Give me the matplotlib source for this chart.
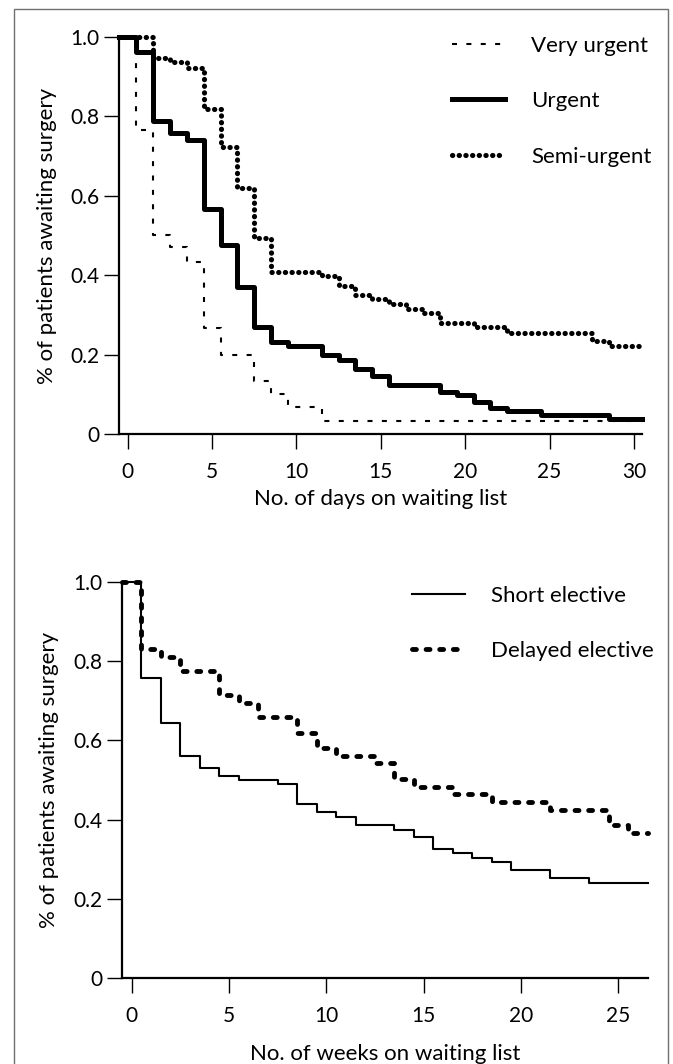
import matplotlib
matplotlib.use("Agg")
import matplotlib.pyplot as plt
from matplotlib.patches import Rectangle

plt.rcParams['font.family'] = ['Lato', 'DejaVu Sans']
FS = 16
TFS = 15

# top panel: days on waiting list (step starts at each time)
days_vu = [-0.5, 0.5, 1.5, 2.5, 3.5, 4.5, 5.5, 7.5, 8.5, 9.5, 11.5, 30.5]
very_urgent = [1.0, 0.766, 0.501, 0.47, 0.434, 0.266, 0.2, 0.134, 0.1, 0.067, 0.034, 0.034]

days_u = [-0.5, 0.5, 1.5, 2.5, 3.5, 4.5, 5.5, 6.5, 7.5, 8.5, 9.5, 11.5, 12.5, 13.5,
          14.5, 15.5, 18.5, 19.5, 20.5, 21.5, 22.5, 24.5, 28.5, 30.5]
urgent = [1.0, 0.962, 0.789, 0.757, 0.74, 0.567, 0.476, 0.371, 0.27, 0.231, 0.222, 0.198,
          0.187, 0.164, 0.145, 0.124, 0.107, 0.098, 0.081, 0.065, 0.058, 0.048, 0.039, 0.039]

days_su = [-0.5, 1.5, 2.5, 3.5, 4.5, 5.5, 6.5, 7.5, 8.5, 11.5, 12.5, 13.5, 14.5, 15.5,
           16.5, 17.5, 18.5, 20.5, 22.5, 27.5, 28.5, 30.5]
semi_urgent = [1.0, 0.946, 0.938, 0.923, 0.818, 0.724, 0.619, 0.493, 0.407, 0.397, 0.374,
               0.35, 0.339, 0.327, 0.316, 0.304, 0.28, 0.269, 0.255, 0.235, 0.222, 0.222]

# bottom panel: weeks on waiting list
weeks_se = [-0.5, 0.5, 1.5, 2.5, 3.5, 4.5, 5.5, 7.5, 8.5, 9.5, 10.5, 11.5, 13.5, 14.5,
            15.5, 16.5, 17.5, 18.5, 19.5, 21.5, 23.5, 26.5]
short_elective = [1.0, 0.757, 0.643, 0.561, 0.53, 0.51, 0.5, 0.49, 0.439, 0.418, 0.407,
                  0.387, 0.374, 0.357, 0.325, 0.315, 0.302, 0.293, 0.273, 0.252, 0.241, 0.241]

weeks_de = [-0.5, 0.5, 1.5, 2.5, 4.5, 5.5, 6.5, 8.5, 9.5, 10.5, 12.5, 13.5, 14.5, 16.5,
            18.5, 21.5, 24.5, 25.5, 26.5]
delayed_elective = [1.0, 0.831, 0.811, 0.774, 0.715, 0.695, 0.658, 0.618, 0.58, 0.56, 0.542,
                    0.503, 0.483, 0.464, 0.444, 0.424, 0.386, 0.365, 0.365]

W, H = 673, 1064
fig = plt.figure(figsize=(W / 100, H / 100), dpi=100)

# outer frame
fig.patches.append(Rectangle((14 / W, -0.01), 654 / W, 1 - 9 / H + 0.01,
                             transform=fig.transFigure, fill=False,
                             edgecolor='#707070', lw=1.0))


def style_axes(ax, xmax, xlabel, xpad):
    ax.set_ylim(0, 1.0)
    ax.set_xlim(-0.5, xmax)
    for s in ['top', 'right']:
        ax.spines[s].set_visible(False)
    for s in ['left', 'bottom']:
        ax.spines[s].set_linewidth(1.6)
    ax.set_yticks([0, 0.2, 0.4, 0.6, 0.8, 1.0])
    ax.set_yticklabels(['0', '0.2', '0.4', '0.6', '0.8', '1.0'])
    ax.tick_params(axis='both', direction='out', length=11, width=1.0, labelsize=TFS)
    ax.tick_params(axis='y', pad=3)
    ax.tick_params(axis='x', pad=9)
    ax.set_ylabel('% of patients awaiting surgery', fontsize=FS, labelpad=10)
    ax.set_xlabel(xlabel, fontsize=FS, labelpad=xpad)


def add_legend(ax, x0, y0):
    ax.legend(loc='upper left', bbox_to_anchor=(x0, y0), frameon=False, borderpad=0,
              borderaxespad=0, handlelength=2.4, handletextpad=1.17,
              labelspacing=1.6, fontsize=FS)


ax1 = fig.add_axes([119.3 / W, 1 - 434 / H, 523 / W, 397 / H])
ax1.step(days_vu, very_urgent, where='post', color='black', lw=1.5,
         linestyle=(0, (2.4, 4.5)), clip_on=False, label='Very urgent')
ax1.step(days_u, urgent, where='post', color='black', lw=3.6,
         clip_on=False, label='Urgent')
ax1.step(days_su, semi_urgent, where='post', color='black', lw=3.7,
         linestyle=(0, (0.05, 1.25)), dash_capstyle='round', clip_on=False,
         label='Semi-urgent')
style_axes(ax1, 30.5, 'No. of days on waiting list', 5)
ax1.set_xticks([0, 5, 10, 15, 20, 25, 30])
add_legend(ax1, (452 - 119.3) / 523, (434 - 35.5) / 397)

ax2 = fig.add_axes([121.9 / W, 1 - 978 / H, 525.7 / W, 396 / H])
ax2.step(weeks_se, short_elective, where='post', color='black', lw=1.5,
         clip_on=False, label='Short elective')
ax2.step(weeks_de, delayed_elective, where='post', color='black', lw=3.5,
         linestyle=(0, (0.8, 2.0)), dash_capstyle='round', clip_on=False,
         label='Delayed elective')
style_axes(ax2, 26.5, 'No. of weeks on waiting list', 13)
ax2.set_xticks([0, 5, 10, 15, 20, 25])
add_legend(ax2, (412 - 121.9) / 525.7, (978 - 585.5) / 396)

fig.savefig('out.png', dpi=100)
